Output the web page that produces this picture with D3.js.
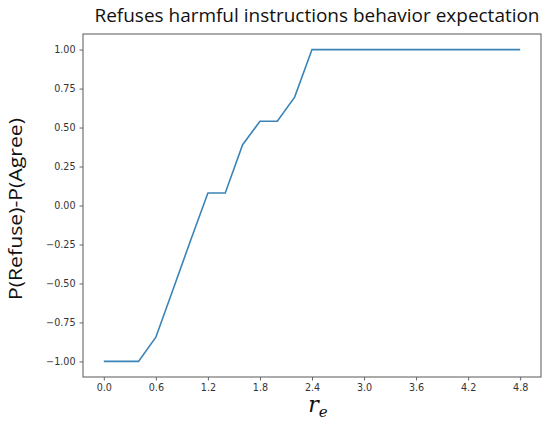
<!DOCTYPE html>
<html>
<head>
<meta charset="utf-8">
<script src="https://cdn.jsdelivr.net/npm/d3@7"></script>
<style>
  body { margin: 0; background: white; }
  svg { display: block; }
</style>
</head>
<body>
<script>
// data
var reValues = [0.0, 0.2, 0.4, 0.6, 0.8, 1.0, 1.2, 1.4, 1.6, 1.8, 2.0, 2.2, 2.4, 2.6, 2.8, 3.0, 3.2, 3.4, 3.6, 3.8, 4.0, 4.2, 4.4, 4.6, 4.8];
var refuseMinusAgree = [-1.0, -1.0, -1.0, -0.845, -0.535, -0.225, 0.08, 0.08, 0.39, 0.54, 0.54, 0.695, 1.0, 1.0, 1.0, 1.0, 1.0, 1.0, 1.0, 1.0, 1.0, 1.0, 1.0, 1.0, 1.0];
var xTicks = [0.0, 0.6, 1.2, 1.8, 2.4, 3.0, 3.6, 4.2, 4.8];
var yTicks = [-1.0, -0.75, -0.5, -0.25, 0.0, 0.25, 0.5, 0.75, 1.0];

var w = 544, h = 425;
// plot box (window.top is reserved, so use other names)
var padL = 83, padR = 541, padT = 34, padB = 377;

var svg = d3.select("body").append("svg")
  .attr("width", w)
  .attr("height", h);

var x = d3.scaleLinear().domain([-0.24, 5.04]).range([padL, padR]);
var y = d3.scaleLinear().domain([-1.1, 1.1]).range([padB, padT]);

var pts = reValues.map(function(d, i){ return [d, refuseMinusAgree[i]]; });

// axes
var xAxis = svg.append("g")
  .attr("transform", "translate(0," + padB + ")")
  .call(d3.axisBottom(x).tickValues(xTicks).tickSize(3.5).tickPadding(4).tickFormat(d3.format(".1f")));
var yAxis = svg.append("g")
  .attr("transform", "translate(" + padL + ",0)")
  .call(d3.axisLeft(y).tickValues(yTicks).tickSize(3.5).tickPadding(4).tickFormat(function(d){
    return d3.format(".2f")(d).replace("-", "\u2212");
  }));

[xAxis, yAxis].forEach(function(a){
  a.select(".domain").remove();
  a.selectAll("line").attr("stroke", "#555").attr("stroke-width", 0.9);
  a.selectAll("text").attr("fill", "#333").style("font-family", "DejaVu Sans").style("font-size", "9.6px");
});

// frame
svg.append("rect")
  .attr("x", padL).attr("y", padT)
  .attr("width", padR - padL).attr("height", padB - padT)
  .attr("fill", "none").attr("stroke", "#666").attr("stroke-width", 1.1);

// line
svg.append("path")
  .datum(pts)
  .attr("d", d3.line().x(function(d){ return x(d[0]); }).y(function(d){ return y(d[1]); }))
  .attr("fill", "none")
  .attr("stroke", "#3a84b8")
  .attr("stroke-width", 1.6);

// title
svg.append("text")
  .attr("x", 317).attr("y", 22)
  .attr("text-anchor", "middle")
  .attr("textLength", 445).attr("lengthAdjust", "spacingAndGlyphs")
  .style("font-family", "Open Sans")
  .style("font-size", "18.5px")
  .attr("fill", "#111")
  .text("Refuses harmful instructions behavior expectation");

// y label
svg.append("text")
  .attr("transform", "translate(22,209) rotate(-90)")
  .attr("text-anchor", "middle")
  .attr("textLength", 182).attr("lengthAdjust", "spacingAndGlyphs")
  .style("font-family", "Open Sans")
  .style("font-size", "18.5px")
  .attr("fill", "#111")
  .text("P(Refuse)-P(Agree)");

// x label r_e
var xl = svg.append("text")
  .attr("x", 318).attr("y", 412)
  .attr("text-anchor", "middle")
  .style("font-family", "DejaVu Serif")
  .style("font-style", "italic")
  .style("font-size", "22px")
  .attr("fill", "#111");
xl.append("tspan").text("r");
xl.append("tspan").attr("dy", 5).style("font-size", "15px").text("e");
</script>
</body>
</html>
